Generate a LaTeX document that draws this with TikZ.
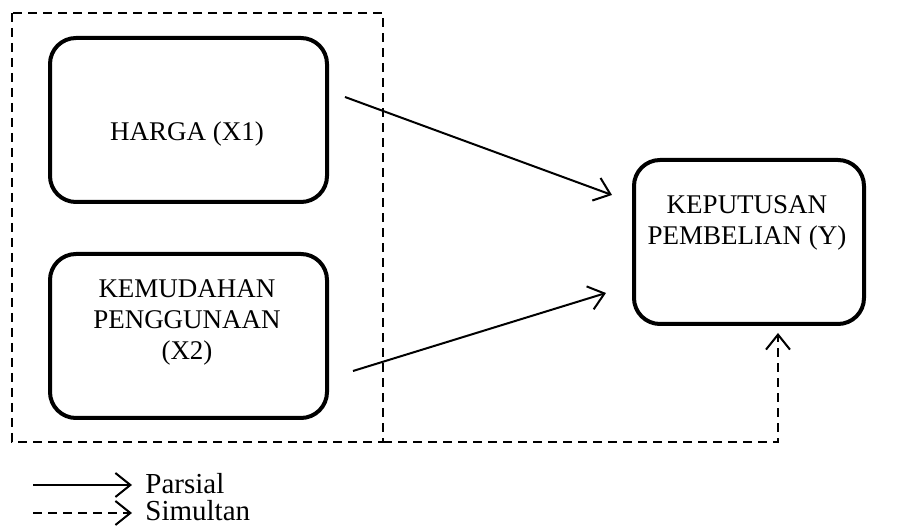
\documentclass[tikz,border=0pt]{standalone}
\usepackage{fontspec}
\setmainfont{Liberation Serif}
\usetikzlibrary{arrows.meta}
\begin{document}
\begin{tikzpicture}[x=0.5pt,y=-0.5pt,
  varbox/.style={draw,line width=2pt,rounded corners=13pt,minimum width=138.5pt,minimum height=82pt,anchor=north west,inner sep=0pt},
  lbl/.style={align=center,font=\fontsize{13.5}{15.5}\selectfont,inner sep=0pt},
  leg/.style={font=\fontsize{14.5}{16}\selectfont,inner sep=0pt,anchor=base west},
  tip/.style={-{Straight Barb[length=7.5pt,width=12pt,line width=1pt]}},
  parsial/.style={line width=1pt,tip},
  simultan/.style={line width=0.9pt,dash pattern=on 4.5pt off 3pt,tip},
  grp/.style={line width=0.9pt,dash pattern=on 4.5pt off 3pt}]
\useasboundingbox (0,0) rectangle (901,528);
\node[varbox] (x1) at (48,36) {};
\node[varbox] (x2) at (48,252) {};
\node[varbox,minimum width=115pt] (y) at (632,158) {};
\node[lbl] (tx1) at (187,134) {HARGA (X1)};
\node[lbl] (tx2) at (187,322) {KEMUDAHAN\\PENGGUNAAN\\(X2)};
\node[lbl] (ty) at (747,223) {KEPUTUSAN\\PEMBELIAN (Y)};
\coordinate (g1) at (12,13);
\coordinate (g2) at (383,442);
\draw[grp] (g1) rectangle (g2);
\coordinate (a1s) at (345,97);
\coordinate (a1e) at (612,195);
\coordinate (a2s) at (353,371);
\coordinate (a2e) at (606,293);
\draw[parsial] (a1s) -- (a1e);
\draw[parsial] (a2s) -- (a2e);
\coordinate (sc) at (778,442);
\coordinate (se) at (778,333);
\draw[simultan] (g2) -- (sc) -- (se);
\coordinate (l1s) at (33,485);
\coordinate (l1e) at (132,485);
\coordinate (l2s) at (33,513);
\coordinate (l2e) at (132,513);
\draw[parsial] (l1s) -- (l1e);
\draw[simultan] (l2s) -- (l2e);
\node[leg] (lp) at (145,494) {Parsial};
\node[leg] (ls) at (145,521) {Simultan};
\end{tikzpicture}
\end{document}
